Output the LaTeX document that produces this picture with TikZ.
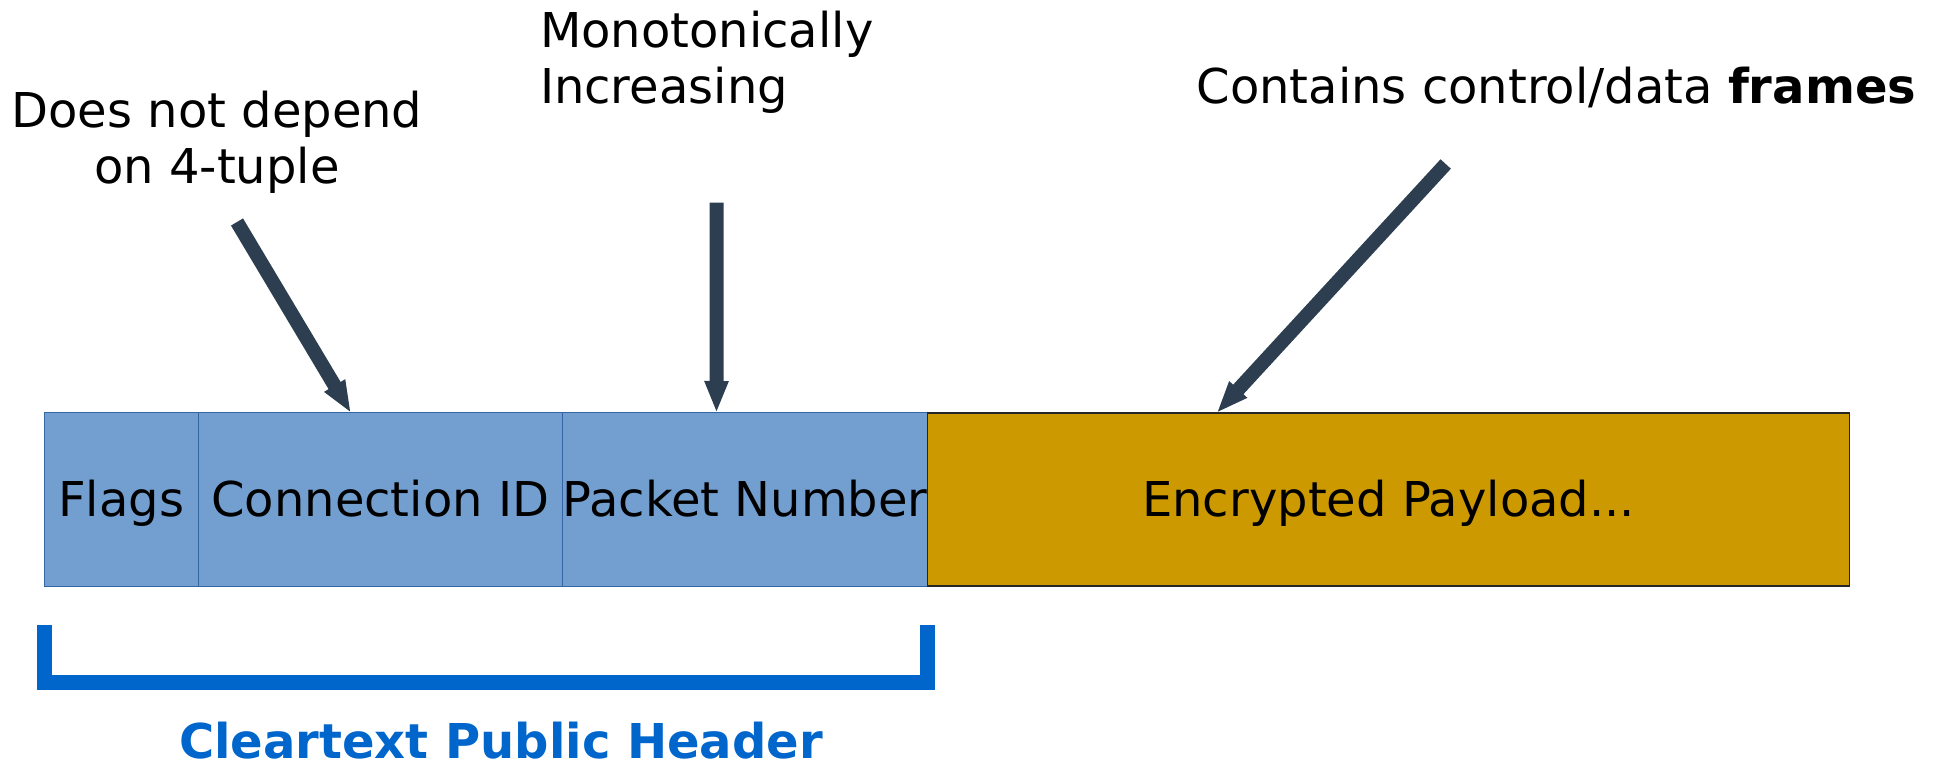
\documentclass[tikz,border=0pt]{standalone}
\usepackage{fontspec}
\setmainfont{DejaVu Sans}
\usetikzlibrary{arrows.meta,calc}
\definecolor{fieldblue}{HTML}{729FCF}
\definecolor{fieldedge}{HTML}{3465A4}
\definecolor{payloadgold}{HTML}{CC9900}
\definecolor{arrowslate}{HTML}{2C3E50}
\definecolor{headerblue}{HTML}{0066CC}

\begin{document}
\begin{tikzpicture}[x=0.5pt,y=-0.5pt,
  every node/.style={inner sep=0pt, outer sep=0pt,
    font=\fontsize{24pt}{27.9pt}\selectfont},
  field/.style={draw=fieldedge, line width=0.5pt, fill=fieldblue,
    anchor=north west, minimum height=86.5pt,
    text height=17.2pt, text depth=0pt},
  payload/.style={field, draw=black!85, fill=payloadgold, line width=0.75pt},
  pointer/.style={draw=arrowslate, line width=7pt, line cap=butt,
    -{Triangle[width=11pt,length=16pt]}},
  bracket/.style={draw=headerblue, line width=7.5pt, line cap=butt,
    line join=miter},
  note/.style={text=black}]

\useasboundingbox (0,0) rectangle (1938,764);

% packet fields
\node[field, minimum width=76.75pt] (flags) at (44.5,413) {Flags};
\node[field, minimum width=182.25pt] (cid) at (flags.north east) {Connection ID};
\node[field, minimum width=182.5pt] (pn) at (cid.north east) {Packet Number};
\node[payload, minimum width=461pt] (payload) at (pn.north east) {Encrypted Payload...};

% annotations (base anchor sits on the last line of a multi-line node)
\node[note, anchor=base, align=center] (n1) at (217,183.3)
  {Does not depend\\on 4-tuple};
\node[note, anchor=base west, align=left] (n2) at (540,103.3)
  {Monotonically\\Increasing};
\node[note, anchor=base west] (n3) at (1196.6,103.3)
  {Contains control/data \textbf{frames}};

% pointers to the fields
\coordinate (t1) at (237,222);
\coordinate (h1) at ($(cid.north west)+(153,0)$);
\coordinate (t2) at (716.7,202.7);
\coordinate (h2) at ($(pn.north west)+(154,0)$);
\coordinate (t3) at (1445.7,164);
\coordinate (h3) at ($(payload.north west)+(289,0)$);
\draw[pointer] (t1) -- (h1);
\draw[pointer] (t2) -- (h2);
\draw[pointer] (t3) -- (h3);

% header bracket
\coordinate (bL) at ($(flags.south west)+(0,39)$);
\coordinate (bR) at ($(pn.south east)+(0,39)$);
\draw[bracket] (bL) -- ++(0,57.5) -| (bR);
\node[anchor=base, text=headerblue, font=\fontsize{24pt}{27.9pt}\selectfont\bfseries]
  (hdr) at (501,758.5) {Cleartext Public Header};
\end{tikzpicture}
\end{document}
